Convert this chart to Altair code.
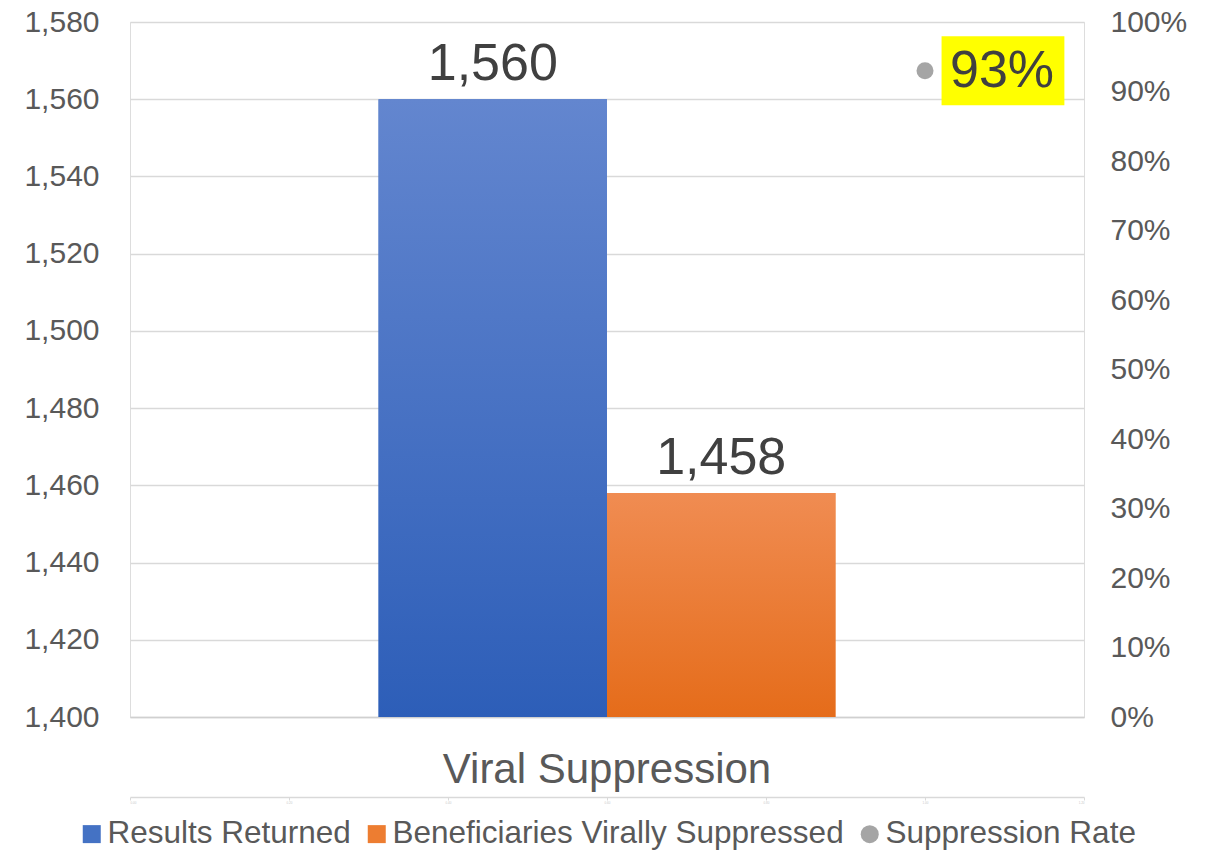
import altair as alt
import pandas as pd

FONT = "Liberation Sans"

# ---- data ----
category = "Viral Suppression"
bar_series = ["Results Returned", "Beneficiaries Virally Suppressed"]
bar_values = [1560, 1458]
rate_series = "Suppression Rate"
rate_values = [0.93]
rate_x = [1.0]
left_ticks = [1400, 1420, 1440, 1460, 1480, 1500, 1520, 1540, 1560, 1580]
right_ticks = [0.0, 0.1, 0.2, 0.3, 0.4, 0.5, 0.6, 0.7, 0.8, 0.9, 1.0]
scatter_ticks = [0.0, 0.2, 0.4, 0.6, 0.8, 1.0, 1.2]

all_series = bar_series + [rate_series]
legend_colors = ["#4472c4", "#ed7d31", "#a5a5a5"]
legend_shapes = ["square", "square", "circle"]
grad_top = ["#6386cf", "#f08c52"]
grad_bot = ["#2d5eb8", "#e56c1a"]

bars_df = pd.DataFrame({
    "category": [category] * len(bar_series),
    "series": bar_series,
    "value": bar_values,
})
rate_df = pd.DataFrame({
    "series": [rate_series] * len(rate_values),
    "rate": rate_values,
    "xpos": rate_x,
})

x_scale = alt.Scale(paddingInner=0, paddingOuter=0.544)
xoff = alt.XOffset("series:N", scale=alt.Scale(domain=bar_series, paddingInner=0, paddingOuter=0))
y_scale = alt.Scale(domain=[1400, 1580], nice=False, zero=False)

x_axis = alt.Axis(title=None, labelFontSize=42, labelColor="#595959", labelFont=FONT,
                  labelPadding=32, ticks=False, domainColor="#d0d0d0", domainWidth=1.5,
                  labelAngle=0, grid=False, labelLimit=0)
y_axis = alt.Axis(title=None, values=left_ticks, labelExpr="format(datum.value, ',')",
                  labelFontSize=30, labelColor="#595959", labelFont=FONT, labelPadding=31,
                  ticks=False, domain=False, gridColor="#d9d9d9", gridWidth=1.3)


def make_legend():
    return alt.Legend(
        title=None, orient="none", legendX=-54, legendY=796, direction="horizontal",
        labelFontSize=31.5, labelColor="#595959", labelFont=FONT, symbolSize=324,
        symbolStrokeWidth=0, labelOffset=0, columnPadding=10, labelLimit=0,
        symbolOpacity=1,
    )


color_scale = alt.Scale(domain=all_series, range=legend_colors)
shape_scale = alt.Scale(domain=all_series, range=legend_shapes)

base_bar = alt.Chart(bars_df)

solid = base_bar.mark_bar().encode(
    x=alt.X("category:N", scale=x_scale, axis=x_axis),
    xOffset=xoff,
    y=alt.Y("value:Q", scale=y_scale, axis=y_axis),
    y2=alt.datum(1400),
    color=alt.Color("series:N", scale=color_scale, legend=make_legend()),
)


def grad(top, bot):
    return alt.LinearGradient(
        gradient="linear", x1=0, x2=0, y1=0, y2=1,
        stops=[alt.GradientStop(offset=0, color=top), alt.GradientStop(offset=1, color=bot)],
    )


grad_layers = []
for i, s in enumerate(bar_series):
    grad_layers.append(
        base_bar.transform_filter(alt.datum.series == s).mark_bar(color=grad(grad_top[i], grad_bot[i])).encode(
            x=alt.X("category:N", scale=x_scale),
            xOffset=xoff,
            y=alt.Y("value:Q", scale=y_scale),
            y2=alt.datum(1400),
        )
    )

labels = base_bar.mark_text(fontSize=52, color="#404040", font=FONT, baseline="alphabetic", dy=-19).encode(
    x=alt.X("category:N", scale=x_scale),
    xOffset=xoff,
    y=alt.Y("value:Q", scale=y_scale),
    text=alt.Text("value:Q", format=","),
)

bar_group = alt.layer(solid, *grad_layers, labels)

# ---- secondary (rate) group ----
x_rate = alt.X("xpos:Q", scale=alt.Scale(domain=[0, 1.2], nice=False, zero=False),
               axis=alt.Axis(title=None, orient="bottom", offset=80, values=scatter_ticks,
                             domainColor="#d9d9d9", domainWidth=1.5, tickColor="#d9d9d9",
                             tickSize=3, labelFontSize=3, labelColor="#c8c8c8",
                             labelPadding=1, grid=False))
y_rate = alt.Y("rate:Q", scale=alt.Scale(domain=[0, 1], nice=False),
               axis=alt.Axis(title=None, orient="right", values=right_ticks, format=".0%",
                             labelFontSize=30, labelColor="#595959", labelFont=FONT,
                             labelPadding=26, ticks=False, domain=False, grid=False))

base_rate = alt.Chart(rate_df)
box = base_rate.mark_point(shape="M0.48,-1H4.04V1H0.48Z", filled=True, color="#ffff00",
                           opacity=1, size=4761).encode(x=x_rate, y=y_rate)
dot = base_rate.mark_point(filled=True, opacity=1, size=289).encode(
    x=alt.X("xpos:Q"), y=alt.Y("rate:Q"),
    color=alt.Color("series:N", scale=color_scale, legend=make_legend()),
    shape=alt.Shape("series:N", scale=shape_scale, legend=make_legend()),
)
rate_text = base_rate.mark_text(align="left", baseline="middle", dx=25, fontSize=52,
                                color="#404040", font=FONT).encode(
    x=alt.X("xpos:Q"), y=alt.Y("rate:Q"), text=alt.Text("rate:Q", format=".0%"))

rate_group = alt.layer(box, dot, rate_text)

chart = alt.layer(bar_group, rate_group).resolve_scale(
    x="independent", y="independent"
).properties(
    width=954, height=695,
    padding={"left": 122, "top": 14, "right": 122, "bottom": 133},
    autosize=alt.AutoSizeParams(type="none"),
).configure_view(stroke=None).configure(font=FONT)

chart.save("out.html", embed_options={"renderer": "svg", "actions": False})
